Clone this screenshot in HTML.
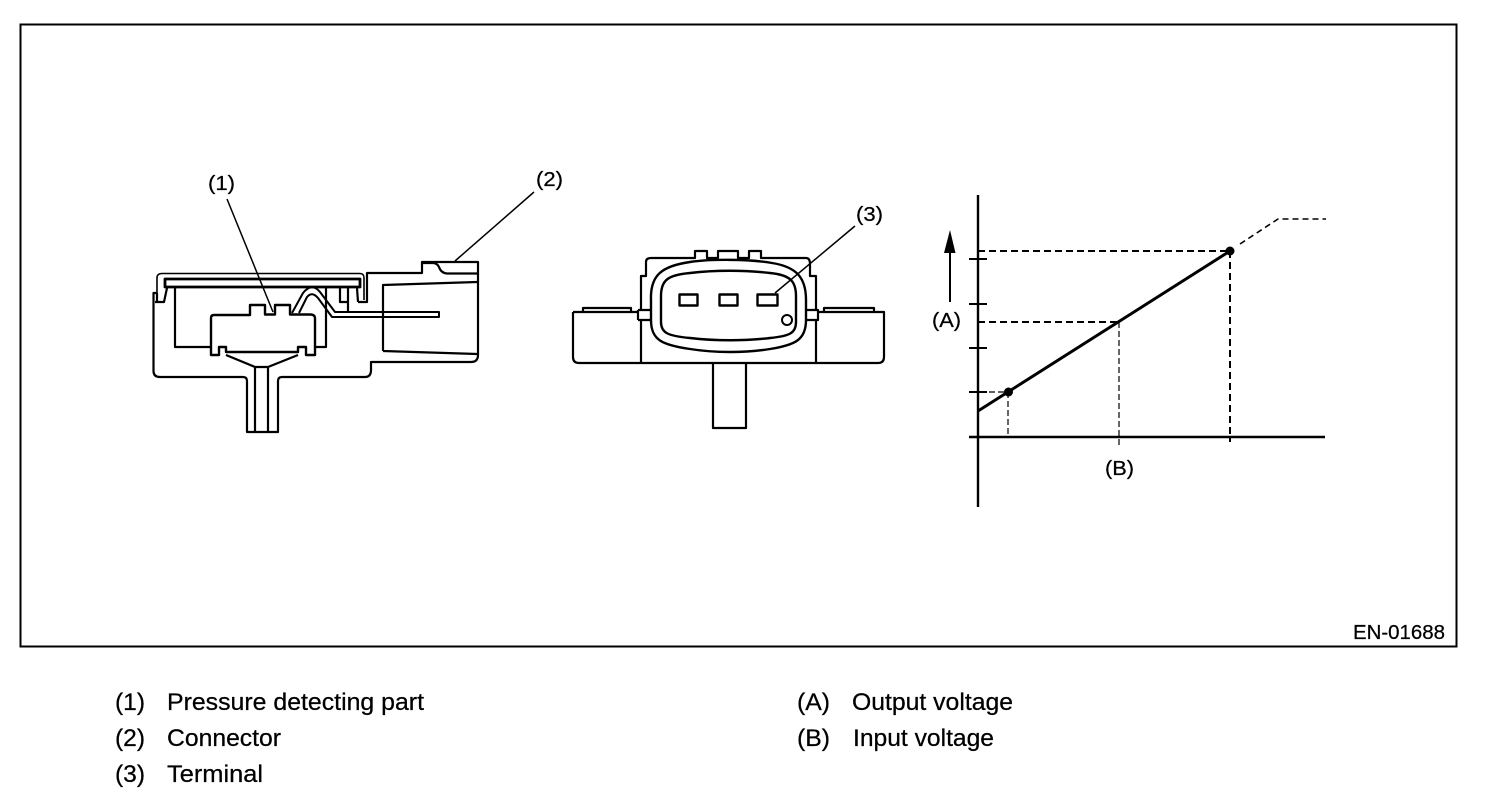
<!DOCTYPE html>
<html><head><meta charset="utf-8"><style>
html,body{margin:0;padding:0;background:#fff}
svg{display:block}
text{font-family:"Liberation Sans",Arial,sans-serif;fill:#000;stroke:#000;stroke-width:.25}
</style></head><body>
<svg width="1504" height="800" viewBox="0 0 1504 800" xmlns="http://www.w3.org/2000/svg">
<rect width="1504" height="800" fill="#fff"/>
<rect x="20.5" y="24.5" width="1436" height="622" fill="none" stroke="#000" stroke-width="2"/>

<g fill="none" stroke="#000" stroke-width="2.2" stroke-linejoin="round">
<!-- left sensor -->
<path d="M157,293 H153.5 V371 Q153.5,377 160,377 H243 Q247,377 247,381 V432 H278 V381 Q278,377 282,377 H365 Q371,377 371,370 V362 H471 Q478,362 478,355 V262 H422 V273 H367 V302 H358"/>
<path d="M157,293 V278 Q157,273.5 162,273.5 H360 Q364,273.5 364,278 V300" stroke-width="1.6"/>
<path d="M155,302 H164 L167,288"/>
<rect x="165" y="279" width="195" height="8" stroke-width="2.8"/>
<path d="M157,293 L157,302" />
<path d="M357,288 L358,302"/>
<path d="M175,288 V347 H211"/>
<path d="M211,355 V318 Q211,315 214,315 H250 V305 H265 V314.500 H275 V305 H290 V314.500 H311 Q315,315 315,318 V355 H306 V347 H298 V352 H226 V347 H219 V355 Z" stroke-width="2.4"/>
<path d="M315,347 H326 V288"/>
<path d="M226,355 L255,367 V432 M298,355 L268,367 V432 M255,367 H268"/>
<path d="M292,313 L303,293 Q312,282 320,292 L335,312 H439 V317 H332 L318,298 Q312,291 307,297 L299,313" stroke-width="2"/>
<path d="M340,288 V302 H348 V288 M348,302 V311"/>
<path d="M383,351 V285 L477,282 M383,351 L477,354"/>
<path d="M422,263 H433 Q437,263 439,267 Q441,273 447,273.500 H478"/>
<path d="M227,199 L273,312 M455,261 L534,192" stroke-width="1.5"/>

<!-- middle connector -->
<path d="M573,312 H638 M583,312 V308 H631 V312 M573,312 V357 Q573,363 579,363 H878 Q884,363 884,357 V312 H818 M824,312 V308 H874 V312"/>
<path d="M641,363 V320 M641,310 V276 H646 V262 Q646,258 651,258 H695 V251 H707 V258 H718 V251 H738 V258 H749 V251 H761 V258 H806 Q810,258 810,264 V276 H816 V310 M816,320 V363"/>
<path d="M638,310 H651 M638,320 H651 M638,310 V320 M805,310 H818 V320 H805"/>
<path d="M651,300 C650,275 662,266 690,262 C710,259 750,259 772,263 C797,267 806,278 806,300 V320 C806,340 795,345 770,349 C745,353 715,353 690,349 C662,345 651,340 651,320 Z" stroke-width="2.4"/>
<path d="M661,296 C661,280 668,275 690,273 C715,270 745,270 770,273 C790,275 796,281 796,296 V322 C796,333 790,336 770,338 C745,341 715,341 690,338 C668,336 661,333 661,322 Z" stroke-width="2.4"/>
<rect x="679.500" y="294.500" width="18" height="11" stroke-width="2.4"/>
<rect x="719.500" y="294.500" width="18" height="11" stroke-width="2.4"/>
<rect x="757.500" y="294.500" width="20" height="11" stroke-width="2.4"/>
<circle cx="787" cy="320" r="5" stroke-width="2"/>
<path d="M713,363 V428 H746 V363"/>
<path d="M775,293 L855,226" stroke-width="1.5"/>

<!-- graph -->
<path d="M978,195 V507 M969,437 H1325" stroke-width="2.4"/>
<path d="M969,259 H987 M969,304 H987 M969,348 H987 M969,392 H987" stroke-width="2"/>
<path d="M978,411 L1230,251" stroke-width="3"/>
<path d="M978,251 H1230 M978,322 H1119" stroke-width="2" stroke-dasharray="7 4"/>
<path d="M1230,251 V442" stroke-width="2" stroke-dasharray="7 4"/>
<path d="M989,392 H1008 M1008,392 V437 M1119,322 V445" stroke-width="1.2" stroke-dasharray="6 3"/>
<path d="M1240,244 L1278,219 H1326" stroke-width="1.6" stroke-dasharray="6 4"/>
<path d="M950,302 V250" stroke-width="2"/>
</g>
<circle cx="1230" cy="251" r="4.500" fill="#000"/>
<circle cx="1008.500" cy="392" r="4.500" fill="#000"/>
<path d="M950,230 L955.500,253 H944 Z" fill="#000"/>

<g font-size="20">
<text x="208" y="190" textLength="27" lengthAdjust="spacingAndGlyphs">(1)</text>
<text x="536" y="186" textLength="27" lengthAdjust="spacingAndGlyphs">(2)</text>
<text x="856" y="221" textLength="27" lengthAdjust="spacingAndGlyphs">(3)</text>
<text x="932" y="327" textLength="29" lengthAdjust="spacingAndGlyphs">(A)</text>
<text x="1105" y="475" textLength="29" lengthAdjust="spacingAndGlyphs">(B)</text>
</g>
<text x="1353" y="639" font-size="20" textLength="92" lengthAdjust="spacingAndGlyphs">EN-01688</text>

<g font-size="24">
<text x="115" y="710" textLength="30" lengthAdjust="spacingAndGlyphs">(1)</text>
<text x="167" y="710" textLength="257" lengthAdjust="spacingAndGlyphs">Pressure detecting part</text>
<text x="115" y="746" textLength="30" lengthAdjust="spacingAndGlyphs">(2)</text>
<text x="167" y="746" textLength="114" lengthAdjust="spacingAndGlyphs">Connector</text>
<text x="115" y="782" textLength="30" lengthAdjust="spacingAndGlyphs">(3)</text>
<text x="167" y="782" textLength="96" lengthAdjust="spacingAndGlyphs">Terminal</text>
<text x="797" y="710" textLength="33" lengthAdjust="spacingAndGlyphs">(A)</text>
<text x="852" y="710" textLength="161" lengthAdjust="spacingAndGlyphs">Output voltage</text>
<text x="797" y="746" textLength="33" lengthAdjust="spacingAndGlyphs">(B)</text>
<text x="853" y="746" textLength="141" lengthAdjust="spacingAndGlyphs">Input voltage</text>
</g>
</svg>
</body></html>
